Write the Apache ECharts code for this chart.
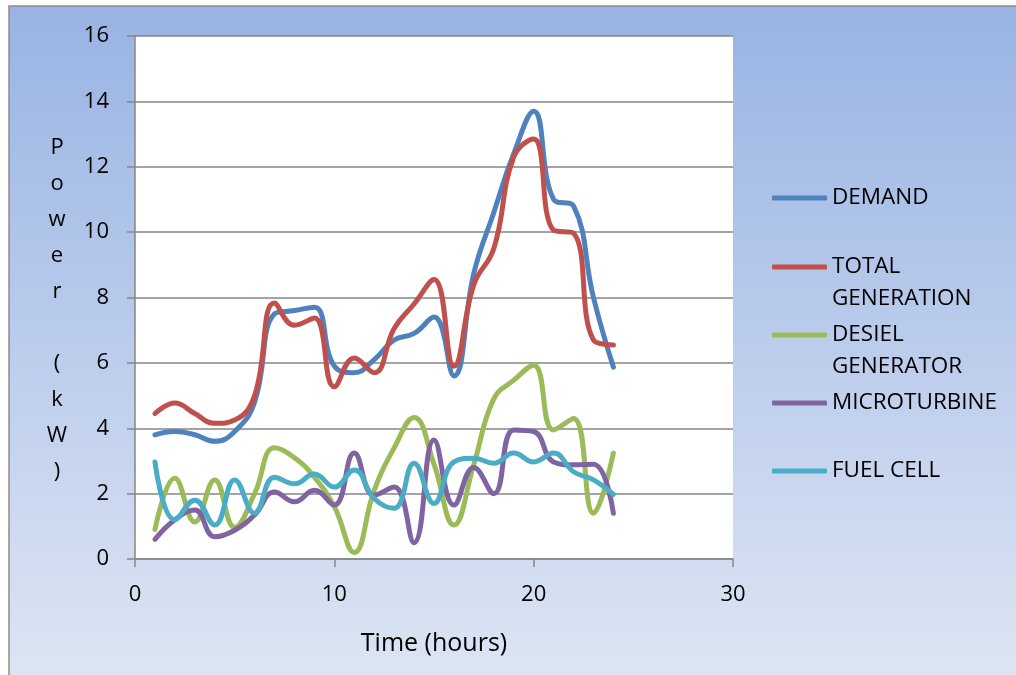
<!DOCTYPE html>
<html>
<head>
<meta charset="utf-8">
<script src="https://cdn.jsdelivr.net/npm/echarts@6/dist/echarts.min.js"></script>
<style>
html,body{margin:0;padding:0;background:#fff;}
#chart{width:1016px;height:675px;}
</style>
</head>
<body>
<div id="chart"></div>
<script>
var hours = [1,2,3,4,5,6,7,8,9,10,11,12,13,14,15,16,17,18,19,20,21,22,23,24];
var demand = [3.8,3.9,3.8,3.6,3.9,4.8,7.5,7.6,7.7,5.9,5.7,6.1,6.7,6.9,7.4,5.6,8.75,10.6,12.4,13.7,11.0,10.8,8.0,5.87];
var totalGeneration = [4.45,4.77,4.45,4.15,4.25,5.0,7.83,7.15,7.37,5.27,6.15,5.7,7.05,7.8,8.55,5.9,8.4,9.5,12.3,12.85,10.06,9.97,6.7,6.55];
var dieselGenerator = [0.9,2.47,1.13,2.42,0.97,2.0,3.4,3.1,2.5,1.6,0.2,2.1,3.4,4.33,2.9,1.04,2.9,4.9,5.47,5.93,3.95,4.3,1.4,3.24];
var microturbine = [0.6,1.2,1.5,0.68,0.88,1.35,2.05,1.75,2.1,1.65,3.24,1.95,2.2,0.5,3.64,1.65,2.8,2.0,3.95,3.9,2.97,2.88,2.9,1.4];
var fuelCell = [2.97,1.2,1.8,1.04,2.42,1.4,2.5,2.3,2.6,2.2,2.72,1.85,1.55,2.93,1.7,2.97,3.08,2.93,3.24,2.97,3.24,2.67,2.42,1.98];
var seriesNames = ['DEMAND','TOTAL GENERATION','DESIEL GENERATOR','MICROTURBINE','FUEL CELL'];
var legendLabels = ['DEMAND','\nTOTAL\nGENERATION','\nDESIEL\nGENERATOR','MICROTURBINE','FUEL CELL'];
var xTicks = [0,10,20,30];
var yTicks = [0,2,4,6,8,10,12,14,16];
var yTitleChars = ['P','o','w','e','r',' ','(','k','W',')'];

var colors = ['#4f81bd','#c0504d','#9bbb59','#8064a2','#4bacc6'];
var seriesData = [demand,totalGeneration,dieselGenerator,microturbine,fuelCell];
var FONT = 'Open Sans';

function pairs(arr){ return hours.map(function(h,i){ return [h, arr[i]]; }); }

var series = seriesNames.map(function(n,i){
  return {
    name:n, type:'line', data:pairs(seriesData[i]), smooth:0.45,
    symbol:'none', showSymbol:false,
    lineStyle:{color:colors[i], width:5, cap:'round', join:'round'},
    itemStyle:{color:colors[i]},
    emphasis:{disabled:true}, z:2
  };
});

var legendTops = [182, 219, 287, 387, 455];
var legends = seriesNames.map(function(n,i){
  return {
    data:[n], left:772, top:legendTops[i], orient:'vertical',
    icon:'roundRect', itemWidth:55, itemHeight:5, padding:0,
    selectedMode:false,
    formatter:function(){ return legendLabels[i]; },
    textStyle:{fontFamily:FONT, fontSize:22.5, color:'#000', lineHeight:32}
  };
});

var yName = '{s| }\n' + yTitleChars.map(function(c){ return '{c|' + c + '}'; }).join('\n');

var option = {
  animation:false,
  color:colors,
  graphic:{elements:[
    {type:'rect', z:-100, silent:true, shape:{x:9,y:6,width:1100,height:700},
     style:{fill:{type:'linear',x:0,y:0,x2:0,y2:1,colorStops:[
       {offset:0,color:'#98b3e3'},{offset:0.5,color:'#bccdec'},{offset:0.96,color:'#dde5f3'},{offset:1,color:'#dfe6f4'}]},
       stroke:'#8c8c8c', lineWidth:1.5}}
  ]},
  legend:legends,
  grid:{left:135, right:283, top:36, bottom:116, show:true, backgroundColor:'#ffffff', borderWidth:0},
  xAxis:{
    type:'value', min:0, max:30, interval:10,
    name:'Time (hours)', nameLocation:'middle', nameGap:72,
    nameTextStyle:{fontFamily:FONT, fontSize:25, color:'#000'},
    axisLine:{show:true, lineStyle:{color:'#868686', width:1.5}},
    axisTick:{show:true, length:8, lineStyle:{color:'#868686', width:1.5}},
    axisLabel:{fontFamily:FONT, fontSize:22, color:'#000', margin:25,
      formatter:function(v){ return xTicks.indexOf(v)>=0 ? String(v) : ''; }},
    splitLine:{show:false}
  },
  yAxis:{
    type:'value', min:0, max:16, interval:2,
    name:yName, nameLocation:'middle', nameRotate:0, nameGap:78,
    nameTextStyle:{fontFamily:FONT, fontSize:22, color:'#000', align:'center', verticalAlign:'middle',
      rich:{
        s:{fontFamily:FONT, fontSize:10, lineHeight:24},
        c:{fontFamily:FONT, fontSize:22, color:'#000', lineHeight:36}
      }},
    axisLine:{show:true, lineStyle:{color:'#868686', width:1.5}},
    axisTick:{show:true, length:8, lineStyle:{color:'#868686', width:1.5}},
    axisLabel:{fontFamily:FONT, fontSize:22, color:'#000', margin:26,
      formatter:function(v){ return yTicks.indexOf(v)>=0 ? String(v) : ''; }},
    splitLine:{show:true, lineStyle:{color:'#868686', width:1.5}}
  },
  series:series
};
var chart = echarts.init(document.getElementById('chart'), null, {renderer:'canvas'});
chart.setOption(option);
</script>
</body>
</html>
